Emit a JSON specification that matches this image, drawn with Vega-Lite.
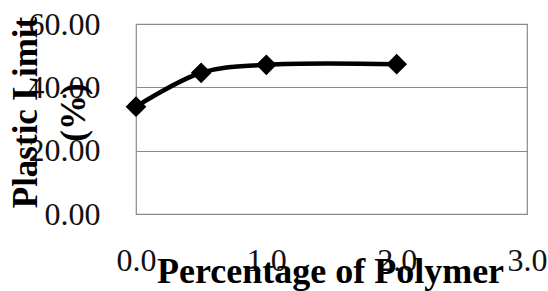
{
  "$schema": "https://vega.github.io/schema/vega-lite/v6.json",
  "width": 391,
  "height": 190,
  "autosize": {"type": "none"},
  "padding": {"left": 136, "top": 24, "right": 21, "bottom": 77},
  "background": "white",
  "config": {
    "view": {"stroke": "#8a8a8a", "strokeWidth": 1.2},
    "font": "Liberation Serif"
  },
  "data": {
    "values": [
      {"polymer": 0.0, "limit": 33.9},
      {"polymer": 0.5, "limit": 44.6},
      {"polymer": 1.0, "limit": 47.1},
      {"polymer": 2.0, "limit": 47.3}
    ]
  },
  "encoding": {
    "x": {
      "field": "polymer",
      "type": "quantitative",
      "scale": {"domain": [0, 3], "nice": false, "zero": false},
      "axis": {
        "title": "Percentage of Polymer",
        "values": [0, 1, 2, 3],
        "format": ".1f",
        "grid": false,
        "domain": false,
        "ticks": false,
        "tickSize": 0,
        "labelFont": "Liberation Serif",
        "labelFontSize": 32,
        "labelColor": "#111",
        "labelBaseline": "alphabetic",
        "labelPadding": 56,
        "labelFlush": false,
        "labelOverlap": false,
        "titleFont": "Liberation Serif",
        "titleFontSize": 36,
        "titleFontWeight": "bold",
        "titleColor": "#000",
        "titleBaseline": "alphabetic",
        "titleX": 194,
        "titleY": 68,
        "titleAnchor": "middle",
        "titleAlign": "center"
      }
    },
    "y": {
      "field": "limit",
      "type": "quantitative",
      "scale": {"domain": [0, 60], "nice": false},
      "axis": {
        "title": ["Plastic Limit", "(%)"],
        "values": [0, 20, 40, 60],
        "format": ".2f",
        "grid": true,
        "gridColor": "#8a8a8a",
        "gridWidth": 1.2,
        "domain": false,
        "ticks": false,
        "tickSize": 0,
        "labelFont": "Liberation Serif",
        "labelFontSize": 32,
        "labelColor": "#111",
        "labelPadding": 36,
        "labelFlush": false,
        "labelOverlap": false,
        "titleFont": "Liberation Serif",
        "titleFontSize": 35,
        "titleFontWeight": "bold",
        "titleColor": "#000",
        "titleAngle": -90,
        "titleAlign": "center",
        "titleBaseline": "middle",
        "titleLineHeight": 48,
        "titleX": -111,
        "titleY": 88
      }
    }
  },
  "layer": [
    {
      "mark": {"type": "line", "color": "#000", "strokeWidth": 4.5, "interpolate": "catmull-rom"}
    },
    {
      "mark": {"type": "point", "shape": "diamond", "filled": true, "color": "#000", "size": 430, "opacity": 1}
    }
  ]
}
